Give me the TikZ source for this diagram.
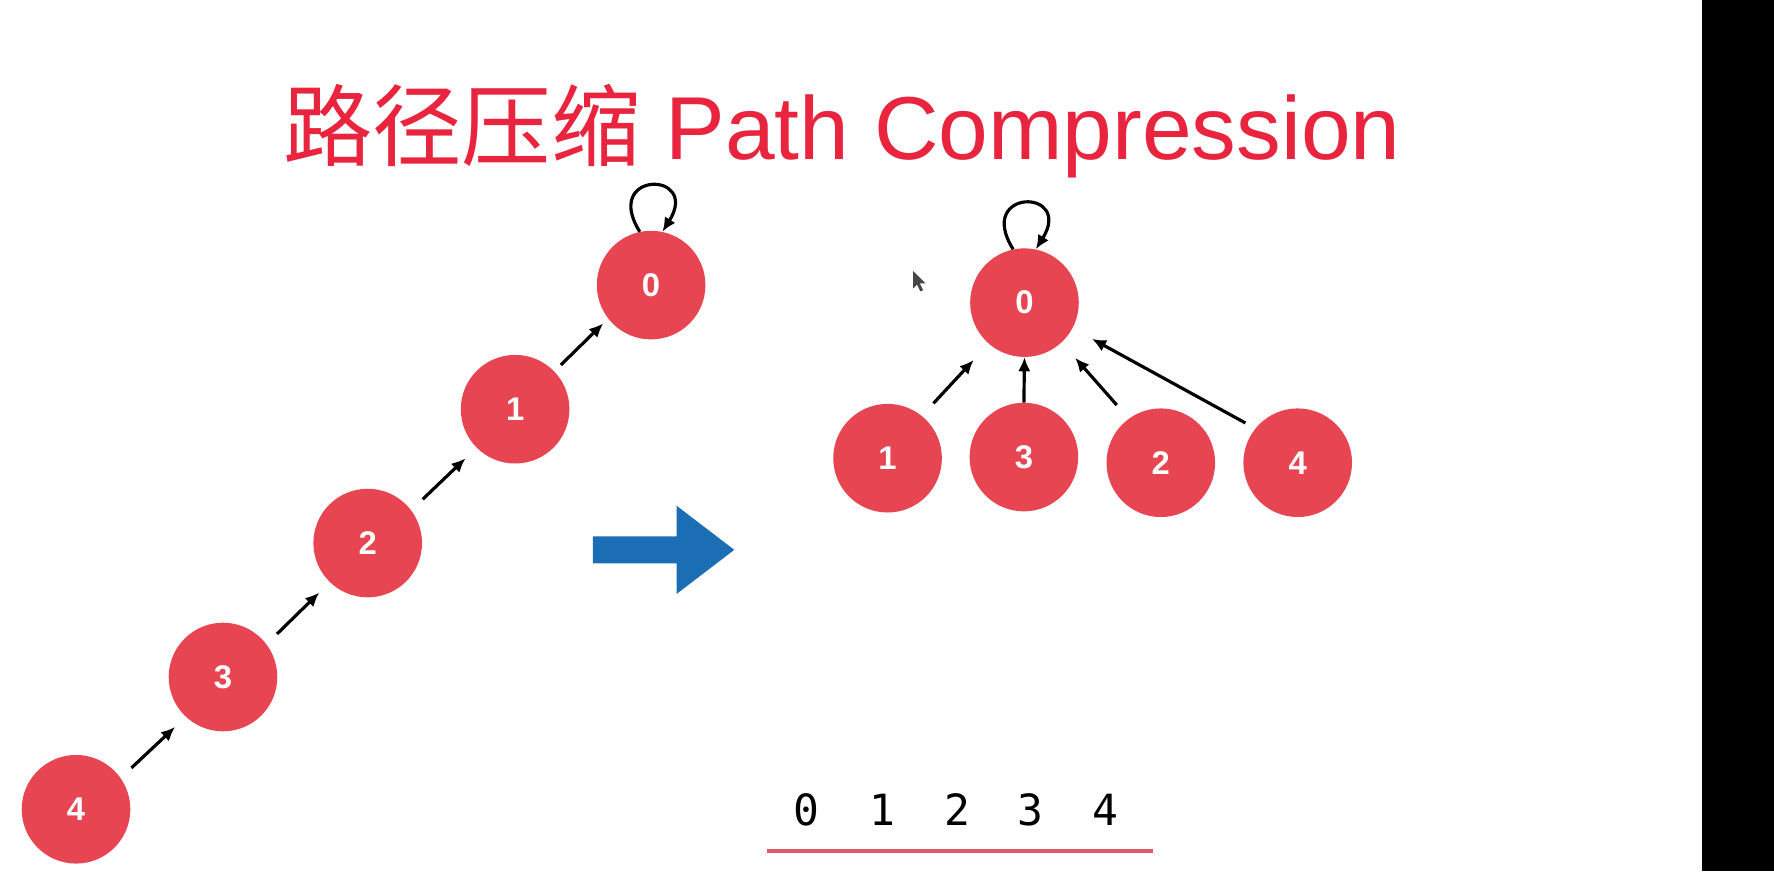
\documentclass[tikz,border=0pt]{standalone}
\usepackage{fontspec}
\setmainfont{Liberation Sans}
\newfontfamily\cjkfont{Noto Sans CJK SC}
\newfontfamily\monofont{DejaVu Sans Mono}
\usetikzlibrary{arrows.meta}
\definecolor{nodered}{HTML}{E84552}
\definecolor{titlered}{HTML}{E8243F}
\definecolor{bluearrow}{HTML}{1B6EB3}
\definecolor{linered}{HTML}{DC5A69}
\begin{document}
\begin{tikzpicture}[x=1pt,y=1pt,
  vnode/.style={circle, fill=nodered, minimum size=96pt, inner sep=0pt,
    text=white, font=\fontsize{29}{29}\selectfont\bfseries},
  arr/.style={line width=2.8pt, -{Latex[length=12.5pt,width=11pt]}},
  selfloop/.style={arr},
  idx/.style={anchor=base, inner sep=0pt, font=\monofont\fontsize{38}{38}\selectfont},
  bigarrow/.style={fill=bluearrow},
  idxline/.style={draw=linered, line width=3.6pt}]
\useasboundingbox (0,0) rectangle (1568,770);
\fill[white] (0,0) rectangle (1568,770);
\fill[black] (1504.5,0) rectangle (1568,770);

% title
\node[anchor=base west, inner sep=0pt, text=titlered, font=\fontsize{79}{79}\selectfont]
  (title) at (250,629) {{\cjkfont 路径压缩} Path Compression};

% left chain
\node[vnode] (l0) at (575.5,518) {0};
\node[vnode] (l1) at (455.3,408.3) {1};
\node[vnode] (l2) at (325,290) {2};
\node[vnode] (l3) at (197.1,171.6) {3};
\node[vnode] (l4) at (67.2,54.7) {4};

\draw[arr, shorten <=13pt, shorten >=13pt] (l4.35) -- (l3.227);
\draw[arr, shorten <=13pt, shorten >=13pt] (l3.37) -- (l2.226);
\draw[arr, shorten <=14pt, shorten >=13.5pt] (l2.37) -- (l1.225);
\draw[arr, shorten <=8pt, shorten >=6pt] (l1.44) -- (l0.218);
\draw[selfloop] (l0.102) .. controls +(122:64) and +(58:64) .. (l0.78);

% transformation arrow
\fill[bigarrow] (524,296) -- (598,296) -- (598,323) -- (649,284) -- (598,245) -- (598,272) -- (524,272) -- cycle;

% right tree
\node[vnode] (r0) at (905.5,502.5) {0};
\node[vnode] (r1) at (784.5,365) {1};
\node[vnode] (r3) at (905,366) {3};
\node[vnode] (r2) at (1026,361) {2};
\node[vnode] (r4) at (1147,361) {4};

\draw[arr, shorten <=15pt, shorten >=19.5pt] (r1.51) -- (r0.229);
\draw[arr] (r3.north) -- (r0.south);
\draw[arr, shorten <=16pt, shorten >=18pt] (r2.126) -- (r0.313);
\draw[arr, shorten <=10pt, shorten >=19.5pt] (r4.141) -- (r0.332);
\draw[selfloop] (r0.102) .. controls +(122:64) and +(58:64) .. (r0.78);

% mouse cursor
\fill[black!85, opacity=0.85] (807,530.5) -- (807,515) -- (810.5,518.5) -- (813.5,512.5) -- (816,513.5) -- (813,519.5) -- (818,519.5) -- cycle;

% index row
\node[idx] (idx0) at (713,40) {0};
\node[idx] (idx1) at (780,40) {1};
\node[idx] (idx2) at (846,40) {2};
\node[idx] (idx3) at (911,40) {3};
\node[idx] (idx4) at (977,40) {4};
\coordinate (lineL) at (678,18);
\coordinate (lineR) at (1019.5,18);
\draw[idxline] (lineL) -- (lineR);
\end{tikzpicture}
\end{document}
